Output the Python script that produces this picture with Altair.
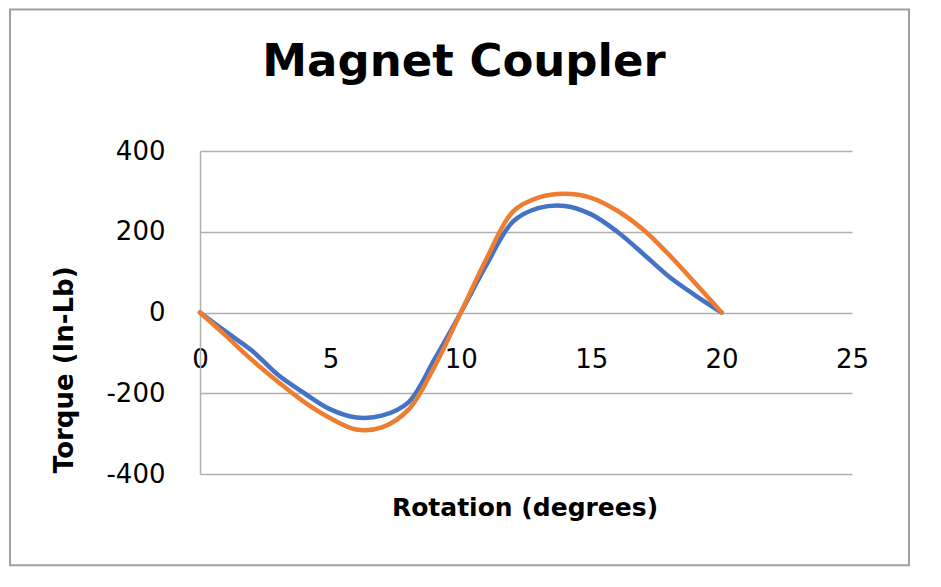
import altair as alt
import pandas as pd

# ---- data ----
degrees = list(range(0, 21))
series1 = [0, -48, -95, -155, -200, -240, -260, -255, -222, -115, 0,
           120, 225, 259, 264, 243, 200, 145, 88, 42, 0]
series2 = [0, -58, -118, -172, -222, -262, -290, -284, -240, -133, 0,
           135, 250, 285, 294, 284, 252, 205, 142, 72, 0]
series_names = ["Series1", "Series2"]
series_colors = ["#4472C4", "#ED7D31"]
x_ticks = [0, 5, 10, 15, 20, 25]
y_ticks = [-400, -200, 0, 200, 400]
chart_title = "Magnet Coupler"
x_title = "Rotation (degrees)"
y_title = "Torque (In-Lb)"

rows = []
for name, vals in zip(series_names, [series1, series2]):
    for d, v in zip(degrees, vals):
        rows.append({"deg": d, "torque": v, "series": name})
df = pd.DataFrame(rows)
one = pd.DataFrame({"k": [0]})

FONT = "DejaVu Sans"
W, H = 652, 323
GRID = "#b0b0b0"

lines = alt.Chart(df).mark_line(
    interpolate="catmull-rom", strokeWidth=4.5, strokeCap="round", strokeJoin="round"
).encode(
    x=alt.X("deg:Q",
            scale=alt.Scale(domain=[0, 25], nice=False, zero=False),
            axis=alt.Axis(values=x_ticks, title=x_title, orient="bottom",
                          offset=-161.5, domain=False, ticks=False, tickSize=0,
                          grid=False, labelPadding=54.5, labelBaseline="alphabetic",
                          labelFlush=False, labelOverlap=False,
                          labelFont=FONT, labelFontSize=26, labelColor="#000000",
                          titleFont=FONT, titleFontSize=25, titleFontWeight="bold",
                          titleColor="#000000", titleX=324.5, titleY=202.7,
                          titleBaseline="alphabetic", titleAlign="center")),
    y=alt.Y("torque:Q",
            scale=alt.Scale(domain=[-400, 400], nice=False),
            axis=alt.Axis(values=y_ticks, title=y_title, orient="left",
                          domain=True, domainColor=GRID, domainWidth=1.5,
                          ticks=False, tickSize=0, grid=True, gridColor=GRID,
                          gridWidth=1.5, labelPadding=35, labelExpr="'' + datum.value",
                          labelFont=FONT, labelFontSize=26, labelColor="#000000",
                          titleFont=FONT, titleFontSize=26, titleFontWeight="bold",
                          titleColor="#000000", titleAngle=270, titleX=-127.3,
                          titleY=218.3, titleBaseline="alphabetic", titleAlign="center")),
    color=alt.Color("series:N", scale=alt.Scale(domain=series_names, range=series_colors),
                    legend=None),
    order=alt.Order("deg:Q"),
)

title_text = alt.Chart(one).mark_text(
    font=FONT, fontSize=45, fontWeight="bold", align="center",
    baseline="alphabetic", color="#000000"
).encode(x=alt.value(264), y=alt.value(-75.5), text=alt.value(chart_title))

border = alt.Chart(one).mark_rect(
    filled=False, stroke="#a0a0a0", strokeWidth=2
).encode(x=alt.value(-190), x2=alt.value(709), y=alt.value(-141.5), y2=alt.value(414.3))

chart = alt.layer(border, lines, title_text).properties(
    width=W, height=H,
    autosize=alt.AutoSizeParams(type="none"),
    padding={"left": 192, "top": 143, "right": 80, "bottom": 100},
    background="white",
).configure_view(stroke=None)

chart.save("out.html", embed_options={"renderer": "svg", "actions": False})
